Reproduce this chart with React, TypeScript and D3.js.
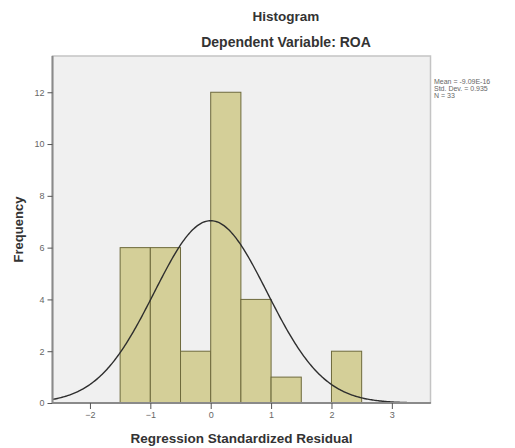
import React, { useEffect, useRef } from "react";
import * as d3 from "d3";

// histogram bins (width 0.5) and their counts
const binStarts = [-1.5, -1.0, -0.5, 0.0, 0.5, 1.0, 1.5, 2.0];
const binCounts = [6, 6, 2, 12, 4, 1, 0, 2];
const binWidth = 0.5;
const xTicks = [-2, -1, 0, 1, 2, 3];
const yTicks = [0, 2, 4, 6, 8, 10, 12];
const statLines = ["Mean = -9.09E-16", "Std. Dev. = 0.935", "N = 33"];
const mean = 0;
const sd = 0.935;
const n = 33;

const App = () => {
  const ref = useRef<SVGSVGElement>(null);

  useEffect(() => {
    const svg = d3.select(ref.current);
    svg.selectAll("*").remove();

    const left = 52.5, right = 430.5, top = 56, bottom = 403;
    const font = "Liberation Sans, Arial, sans-serif";

    const x = d3.scaleLinear().domain([-2.62, 3.64]).range([left, right]);
    const y = d3.scaleLinear().domain([0, 13.4]).range([bottom, top]);

    // plot background
    svg.append("rect")
      .attr("x", left).attr("y", top)
      .attr("width", right - left).attr("height", bottom - top)
      .attr("fill", "#f0f0f0")
      .attr("stroke", "#c4c4c4")
      .attr("stroke-width", 1.5);

    // bars
    svg.append("g")
      .selectAll("rect")
      .data(binStarts.map((s, i) => ({ s, c: binCounts[i] })).filter((d) => d.c > 0))
      .enter()
      .append("rect")
      .attr("x", (d) => x(d.s))
      .attr("y", (d) => y(d.c))
      .attr("width", (d) => x(d.s + binWidth) - x(d.s))
      .attr("height", (d) => y(0) - y(d.c))
      .attr("fill", "#d4cf98")
      .attr("stroke", "#6e6a3c")
      .attr("stroke-width", 1);

    // normal curve
    const pts = d3.range(x.domain()[0], x.domain()[1] + 0.001, 0.02).map((v) => [
      v,
      (n * binWidth * Math.exp(-0.5 * ((v - mean) / sd) ** 2)) / (sd * Math.sqrt(2 * Math.PI)),
    ]);
    svg.append("path")
      .datum(pts)
      .attr("d", d3.line<number[]>().x((d) => x(d[0])).y((d) => y(d[1])))
      .attr("fill", "none")
      .attr("stroke", "#2e2e2e")
      .attr("stroke-width", 1.4);

    // axes
    const xAxis = svg.append("g")
      .attr("transform", `translate(0,${bottom})`)
      .call(d3.axisBottom(x).tickValues(xTicks).tickSize(6).tickFormat(d3.format("d")));
    const yAxis = svg.append("g")
      .attr("transform", `translate(${left},0)`)
      .call(d3.axisLeft(y).tickValues(yTicks).tickSize(5).tickFormat(d3.format("d")));
    [xAxis, yAxis].forEach((g) => {
      g.select(".domain").attr("stroke", "#8a8a8a").attr("stroke-width", 2);
      g.selectAll(".tick line").attr("stroke", "#555");
      g.selectAll(".tick text")
        .attr("fill", "#666")
        .attr("font-family", font)
        .attr("font-size", 9);
    });
    xAxis.select(".domain").attr("d", `M${left},0H${right}`);
    yAxis.select(".domain").attr("d", `M0,${top}V${bottom}`);

    // titles
    const title = (txt: string, x0: number, y0: number, size: number) =>
      svg.append("text")
        .attr("x", x0).attr("y", y0)
        .attr("text-anchor", "middle")
        .attr("font-family", font).attr("font-weight", "bold").attr("font-size", size)
        .attr("fill", "#333")
        .text(txt);
    title("Histogram", 286, 21, 13.5);
    title("Dependent Variable: ROA", 286, 47, 14);
    title("Regression Standardized Residual", (left + right) / 2, 443, 13.5);
    svg.append("text")
      .attr("transform", `translate(23,${(top + bottom) / 2}) rotate(-90)`)
      .attr("text-anchor", "middle")
      .attr("font-family", font).attr("font-weight", "bold").attr("font-size", 13)
      .attr("fill", "#333")
      .text("Frequency");

    // stats box text
    svg.append("g")
      .selectAll("text")
      .data(statLines)
      .enter()
      .append("text")
      .attr("x", 434)
      .attr("y", (d, i) => 84 + i * 7)
      .attr("font-family", font)
      .attr("font-size", 7)
      .attr("fill", "#666")
      .text((d) => d);
  }, []);

  return (
    <svg
      ref={ref}
      width={515}
      height={448}
      style={{ position: "absolute", left: 0, top: 0, background: "#fff" }}
    />
  );
};

export default App;
